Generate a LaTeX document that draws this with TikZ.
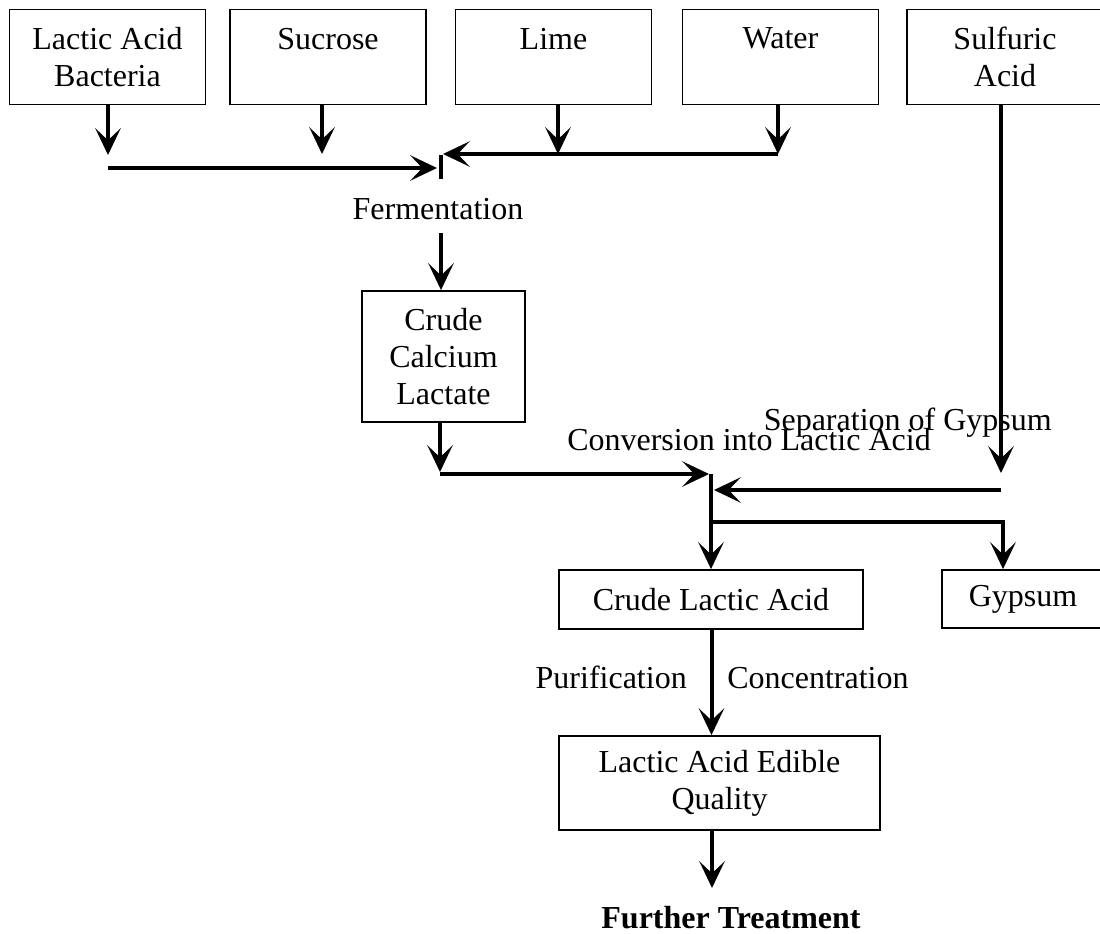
\documentclass[tikz,border=0pt]{standalone}
\usepackage{fontspec}
\setmainfont{Liberation Serif}
\usetikzlibrary{arrows.meta,calc}
\newcommand\bigtext{\fontsize{24pt}{27.75pt}\selectfont}
\tikzset{
  box/.style={draw, line width=1.4pt, inner sep=0pt, align=center, font=\bigtext},
  topbox/.style={box, minimum width=147pt, minimum height=71.25pt},
  flow/.style={line width=3pt, -{Stealth[length=20pt,width=19pt,inset=9pt]}},
  tick/.style={line width=2.6pt},
  lbl/.style={inner sep=0pt, font=\bigtext},
}
\begin{document}
\begin{tikzpicture}[x=0.75pt,y=-0.75pt]
\useasboundingbox[fill=white] (0,0) rectangle (1100,933);

% top input boxes
\node[topbox] (lab) at (107.5,57) {Lactic Acid\\Bacteria};
\node[topbox] (suc) at (328,57) {Sucrose\\\mbox{}};
\node[topbox] (lim) at (553.5,57) {Lime\\\mbox{}};
\node[topbox] (wat) at (780.5,57) {Water\\\mbox{}};
\node[topbox] (sul) at (1005,57) {Sulfuric\\Acid};

% other boxes
\node[box, minimum width=122.25pt, minimum height=98.25pt] (ccl) at (443.5,356.5) {Crude\\Calcium\\Lactate};
\node[box, minimum width=228pt, minimum height=44.25pt] (cla) at (711,599.5) {Crude Lactic Acid};
\node[box, minimum width=121.5pt, minimum height=43.5pt] (gyp) at (1023,599) {Gypsum};
\node[box, minimum width=240.75pt, minimum height=70.5pt] (edi) at (719.5,783) {Lactic Acid Edible\\Quality};

% labels
\node[lbl, anchor=base] (fer) at (438,219) {Fermentation};
\node[lbl, anchor=base west] (con) at (567,450) {Conversion into Lactic Acid};
\node[lbl, anchor=base east] (sep) at (1052,430) {Separation of Gypsum};
\node[lbl, anchor=base east] (pur) at (687,688) {Purification};
\node[lbl, anchor=base west] (cnc) at (727,688) {Concentration};
\node[lbl, anchor=base, font=\bigtext\bfseries] (fur) at (731,928) {Further Treatment};

% coordinates
\coordinate (t1) at (108,155);
\coordinate (t2) at (322,154);
\coordinate (t3) at (558,154);
\coordinate (t4) at (778,154);
\coordinate (h1s) at (108,168);
\coordinate (h1e) at (437,168);
\coordinate (h2e) at (443,154);
\coordinate (j1a) at (441,155);
\coordinate (j1b) at (441,179);
\coordinate (f1) at (441,233);
\coordinate (c1) at (440,472);
\coordinate (c1s) at (440,474);
\coordinate (c1e) at (709,474);
\coordinate (j2) at (711,474);
\coordinate (s1) at (1001,473);
\coordinate (s2) at (1001,490);
\coordinate (s2e) at (714,490);
\coordinate (br) at (711,522);
\coordinate (g1) at (1003,522);
\coordinate (p1) at (711.5,630);
\coordinate (p2) at (712,888);

% first junction
\draw[flow] (lab.south -| t1) -- (t1);
\draw[flow] (suc.south -| t2) -- (t2);
\draw[flow] (lim.south -| t3) -- (t3);
\draw[flow] (wat.south -| t4) -- (t4);
\draw[flow] (h1s) -- (h1e);
\draw[flow] (t4) -- (h2e);
\draw[tick] (j1a) -- (j1b);
\draw[flow] (f1) -- (ccl.north -| f1);

% second junction
\draw[flow] (ccl.south -| c1) -- (c1);
\draw[flow] (c1s) -- (c1e);
\draw[flow] (sul.south -| s1) -- (s1);
\draw[flow] (s2) -- (s2e);
\draw[flow] (j2) -- (cla.north -| j2);
\draw[flow] (br) -- (g1) -- (gyp.north -| g1);

% bottom
\draw[flow] (cla.south -| p1) -- (edi.north -| p1);
\draw[flow] (edi.south -| p2) -- (p2);
\end{tikzpicture}
\end{document}
